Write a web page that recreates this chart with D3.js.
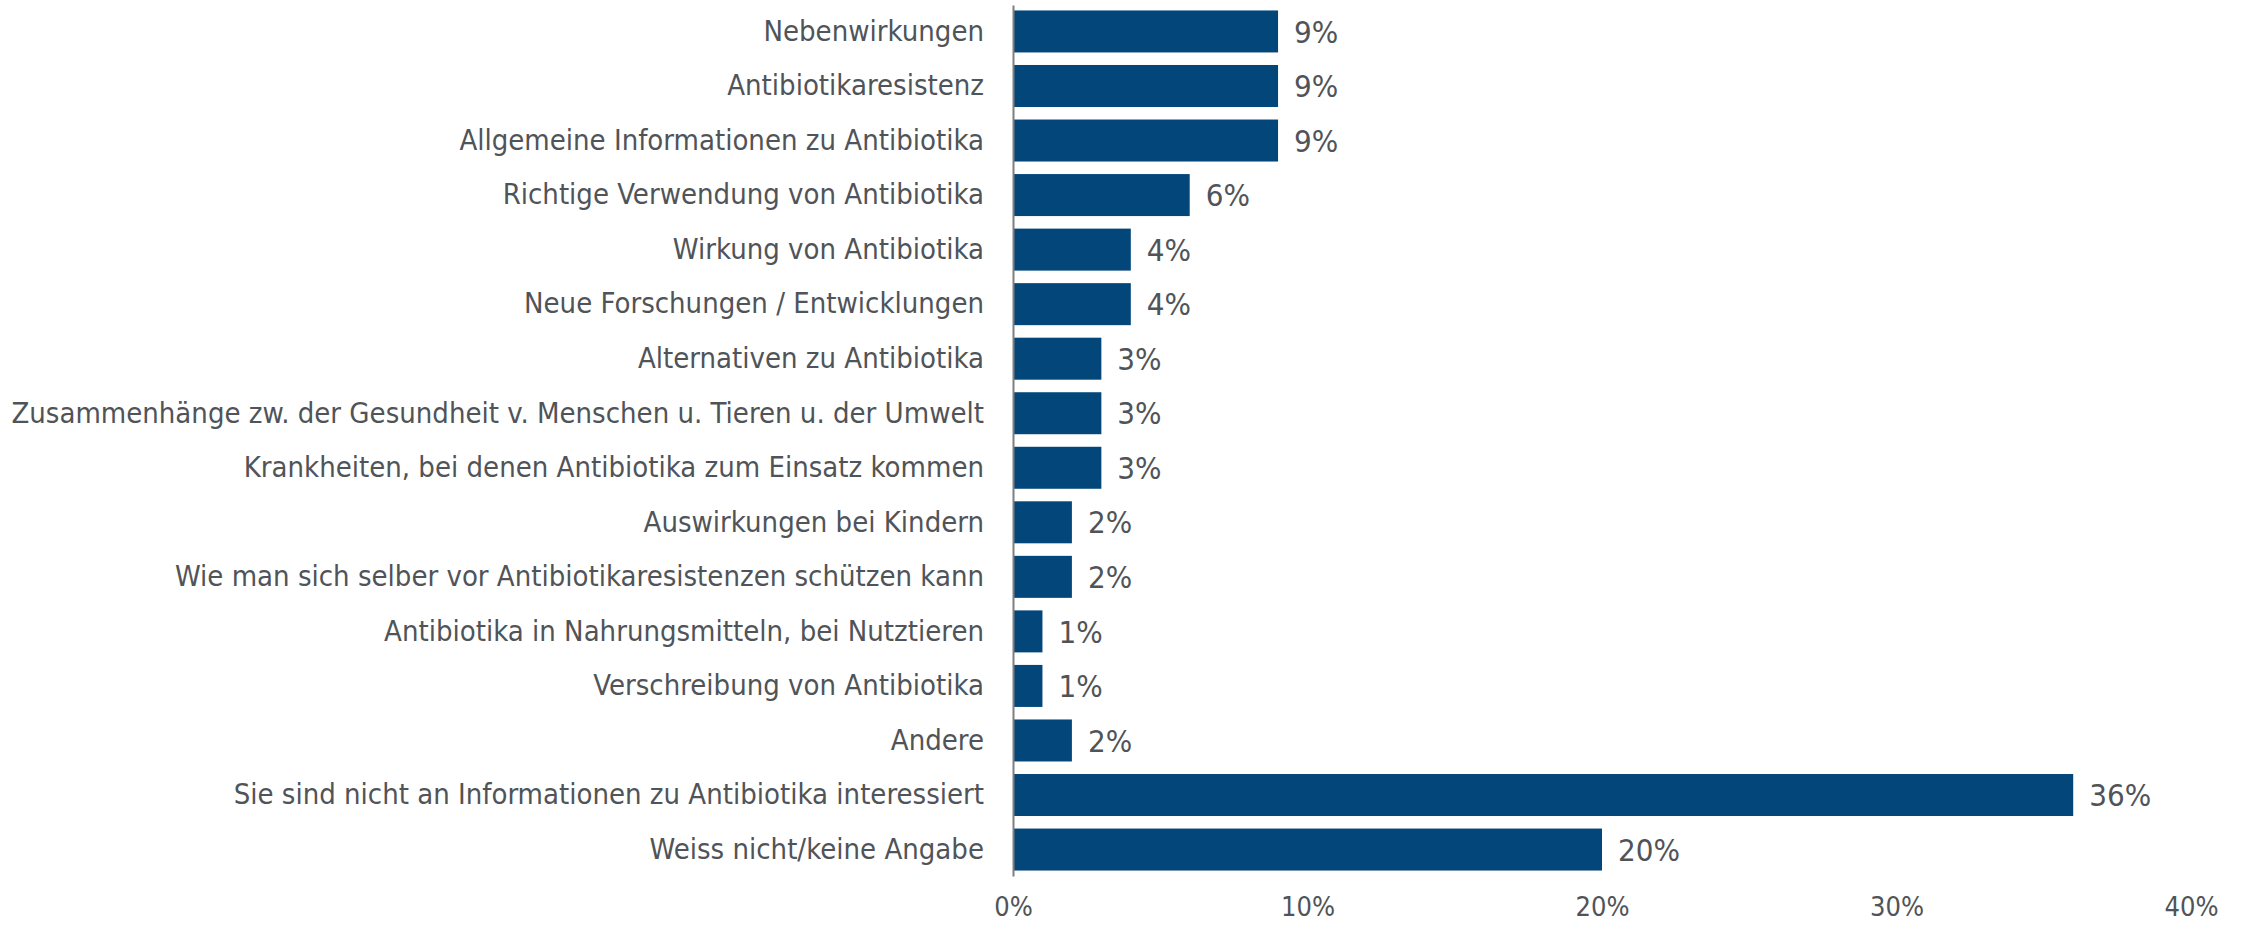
<!DOCTYPE html>
<html>
<head>
<meta charset="utf-8">
<script src="https://cdn.jsdelivr.net/npm/d3@7"></script>
<style>
  body { margin: 0; background: #fff; }
  text { font-family: "DejaVu Sans Condensed", "DejaVu Sans", sans-serif; }
</style>
</head>
<body>
<div id="chart"></div>
<script>
var w = 2254;
var h = 925;

// data
var categories = [
  'Nebenwirkungen',
  'Antibiotikaresistenz',
  'Allgemeine Informationen zu Antibiotika',
  'Richtige Verwendung von Antibiotika',
  'Wirkung von Antibiotika',
  'Neue Forschungen / Entwicklungen',
  'Alternativen zu Antibiotika',
  'Zusammenhänge zw. der Gesundheit v. Menschen u. Tieren u. der Umwelt',
  'Krankheiten, bei denen Antibiotika zum Einsatz kommen',
  'Auswirkungen bei Kindern',
  'Wie man sich selber vor Antibiotikaresistenzen schützen kann',
  'Antibiotika in Nahrungsmitteln, bei Nutztieren',
  'Verschreibung von Antibiotika',
  'Andere',
  'Sie sind nicht an Informationen zu Antibiotika interessiert',
  'Weiss nicht/keine Angabe'
];
var values = [9, 9, 9, 6, 4, 4, 3, 3, 3, 2, 2, 1, 1, 2, 36, 20];
var tickValues = [0, 10, 20, 30, 40];

var data = categories.map(function(c, i) { return { name: c, value: values[i] }; });

var textColor = '#505458';
var x0 = 1013, x1 = 2191; // plot left/right
var y0 = 5, y1 = 876;     // plot top/bottom

var xScale = d3.scaleLinear()
  .domain([0, 40])
  .range([x0, x1]);

var yScale = d3.scaleBand()
  .domain(categories)
  .range([y0, y1])
  .paddingInner(0.23)
  .paddingOuter(0.1);

var svg = d3.select('#chart')
  .append('svg')
    .attr('width', w)
    .attr('height', h);

// bars
svg.selectAll('.bar')
  .data(data)
  .enter()
  .append('rect')
    .attr('class', 'bar')
    .attr('x', xScale(0))
    .attr('y', function(d) { return yScale(d.name); })
    .attr('width', function(d) { return xScale(d.value) - xScale(0); })
    .attr('height', yScale.bandwidth())
    .attr('fill', '#02467A');

// value labels
svg.selectAll('.value-label')
  .data(data)
  .enter()
  .append('text')
    .attr('class', 'value-label')
    .attr('x', function(d) { return xScale(d.value) + 16; })
    .attr('y', function(d) { return yScale(d.name) + yScale.bandwidth() / 2; })
    .attr('dy', '0.36em')
    .attr('fill', textColor)
    .style('font-size', '31px')
    .text(function(d) { return d.value + '%'; });

// category axis
var yAxis = d3.axisLeft(yScale).tickSize(0).tickPadding(29);
var yG = svg.append('g')
  .attr('transform', 'translate(' + x0 + ',0)')
  .call(yAxis);
yG.select('.domain').attr('stroke', '#7f7f7f').attr('stroke-width', 2);
yG.selectAll('text')
  .style('font-size', '29px')
  .attr('fill', textColor);

// value axis (labels only)
var xAxis = d3.axisBottom(xScale)
  .tickValues(tickValues)
  .tickSize(0)
  .tickPadding(21)
  .tickFormat(function(d) { return d + '%'; });
var xG = svg.append('g')
  .attr('transform', 'translate(0,' + y1 + ')')
  .call(xAxis);
xG.select('.domain').remove();
xG.selectAll('text')
  .style('font-size', '27px')
  .attr('fill', textColor);
</script>
</body>
</html>
